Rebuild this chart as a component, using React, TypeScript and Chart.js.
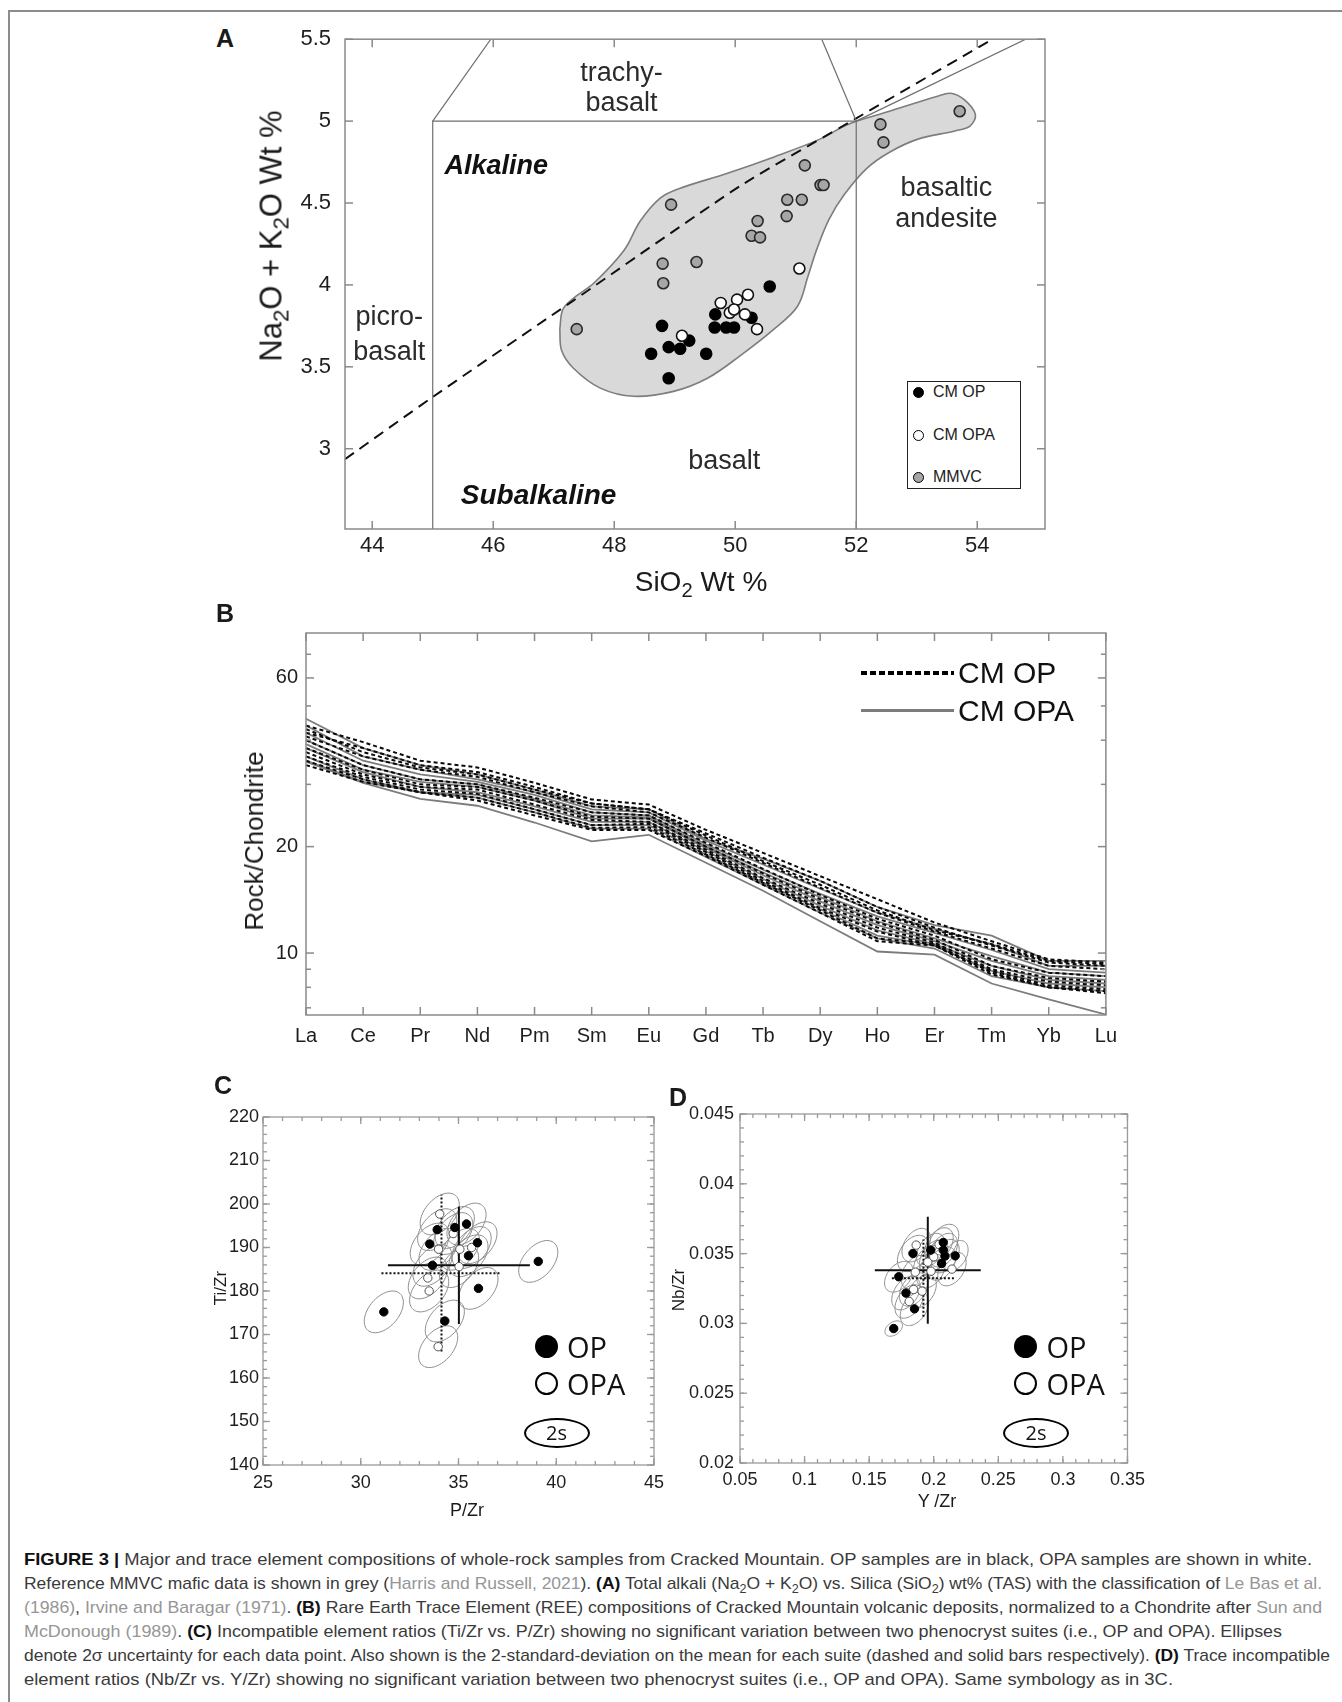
import React, { useEffect, useLayoutEffect, useRef } from "react";
import { Chart, registerables } from "chart.js";
Chart.register(...registerables);

const FONT = "'Liberation Sans', Arial, Helvetica, sans-serif";

// ---------------- Panel A : TAS ----------------
const TAS_OP_SIO2 = [48.79, 48.61, 48.9, 49.09, 49.24, 48.9, 49.52, 49.67, 49.66, 49.85, 49.98, 50.27, 50.57];
const TAS_OP_ALK = [3.75, 3.58, 3.62, 3.61, 3.66, 3.43, 3.58, 3.82, 3.74, 3.74, 3.74, 3.8, 3.99];
const TAS_OPA_SIO2 = [49.12, 49.76, 50.03, 50.21, 49.91, 49.98, 50.16, 50.36, 51.06];
const TAS_OPA_ALK = [3.69, 3.89, 3.91, 3.94, 3.83, 3.85, 3.82, 3.73, 4.1];
const TAS_MMVC_SIO2 = [47.38, 48.94, 48.8, 48.81, 49.36, 50.37, 50.27, 50.41, 50.86, 51.1, 50.85, 51.15, 51.41, 51.46, 52.4, 52.45, 53.71];
const TAS_MMVC_ALK = [3.73, 4.49, 4.13, 4.01, 4.14, 4.39, 4.3, 4.29, 4.52, 4.52, 4.42, 4.73, 4.61, 4.61, 4.98, 4.87, 5.06];

const ENVELOPE_SIO2 = [47.1, 47.15, 47.33, 47.66, 48.16, 48.43, 48.76, 49.09, 49.86, 50.63, 51.4, 51.86, 52.55, 53.33, 53.56, 53.79, 53.97, 53.88, 53.63, 53.02, 52.55, 52.17, 51.8, 51.55, 51.35, 51.2, 51.03, 50.64, 50.09, 49.54, 48.98, 48.32, 47.77, 47.33, 47.13, 47.1];
const ENVELOPE_ALK = [3.73, 3.85, 3.92, 4.01, 4.21, 4.39, 4.53, 4.59, 4.68, 4.78, 4.89, 4.98, 5.06, 5.15, 5.17, 5.13, 5.04, 4.97, 4.94, 4.89, 4.81, 4.71, 4.55, 4.4, 4.22, 4.05, 3.87, 3.73, 3.57, 3.43, 3.35, 3.32, 3.37, 3.49, 3.6, 3.73];

const ALK_DIVIDE_SIO2 = [43.55, 45.0, 47.33, 50.09, 52.0, 54.25];
const ALK_DIVIDE_ALK = [2.936, 3.316, 3.906, 4.606, 5.017, 5.5];

const BASALT_FIELD_SIO2 = [45, 45, 52, 52];
const BASALT_FIELD_ALK = [2.3, 5, 5, 2.3];
const TB_LEFT_SIO2 = [45, 45.96];
const TB_LEFT_ALK = [5, 5.5];
const TB_RIGHT_SIO2 = [52, 51.43];
const TB_RIGHT_ALK = [5, 5.5];
const BA_TOP_SIO2 = [52, 54.8];
const BA_TOP_ALK = [5, 5.5];

const A_X_TICKS = [44, 46, 48, 50, 52, 54];
const A_Y_TICKS = [3, 3.5, 4, 4.5, 5, 5.5];

// ---------------- Panel B : REE ----------------
const REE = ["La", "Ce", "Pr", "Nd", "Pm", "Sm", "Eu", "Gd", "Tb", "Dy", "Ho", "Er", "Tm", "Yb", "Lu"];
const REE_OP = [
  [44, 39.5, 35, 33.5, 30.3, 27.2, 26.3, 22.3, 19.2, 16.5, 14.2, 12.2, 10.8, 9.6, 9.4],
  [43, 37, 33.5, 32, 29, 26.5, 25.5, 21.5, 18.2, 15.6, 13.2, 11.6, 10.6, 9.5, 9.3],
  [42, 38, 34, 32.5, 29.5, 26.5, 25.5, 21.8, 18.6, 16.0, 13.5, 11.8, 10.5, 9.4, 9.2],
  [41, 36, 33, 31.5, 28.5, 26, 25, 21.2, 18.0, 15.3, 13.0, 11.5, 10.3, 9.2, 9.0],
  [40, 34, 31, 30, 27.5, 25, 24.5, 20.5, 17.3, 14.6, 12.5, 11.2, 9.6, 8.8, 8.6],
  [38, 33, 30, 29.5, 27, 24.3, 24, 20.0, 16.8, 14.2, 12.2, 10.9, 9.2, 8.5, 8.3],
  [37, 32, 29.5, 29, 26.3, 23.8, 23.5, 19.6, 16.3, 13.8, 11.8, 10.7, 9.0, 8.3, 8.1],
  [36, 31.5, 29, 28.2, 25.5, 23, 23.2, 19.3, 16.0, 13.4, 11.5, 10.5, 8.9, 8.1, 7.9],
  [35, 31, 28.5, 27.5, 25, 22.6, 22.7, 19.0, 15.8, 13.2, 11.0, 10.6, 8.8, 8.0, 7.8],
  [34, 30.5, 28.5, 27, 24.5, 22.3, 22.3, 18.8, 15.6, 13.0, 10.8, 10.5, 8.7, 8.0, 7.7],
];
const REE_OPA = [
  [46, 38, 34, 32, 29, 26, 25.5, 21, 18.5, 16.0, 13.5, 12.0, 11.2, 9.5, 9.5],
  [44, 36, 33, 31, 28.5, 25.5, 25, 20.8, 17.8, 15.2, 13.0, 11.7, 10.6, 9.2, 9.2],
  [42, 35, 32, 30.5, 28, 25, 24.5, 20.3, 17.2, 14.7, 12.7, 11.4, 10.2, 9.0, 8.8],
  [40, 34, 31, 30, 27.3, 24.5, 24.2, 20, 16.9, 14.4, 12.3, 11.0, 9.8, 8.8, 8.6],
  [39, 33, 30.5, 29.5, 27, 24, 24, 19.8, 16.6, 14.0, 12.0, 10.8, 9.5, 8.6, 8.4],
  [38, 32.5, 29.5, 28.5, 26, 23.5, 23.5, 19.4, 16.2, 13.6, 11.6, 10.6, 9.2, 8.4, 8.2],
  [36, 31, 28.5, 28, 25.5, 23, 23, 19, 15.8, 13.3, 11.2, 10.5, 8.9, 8.2, 8.0],
  [35, 30.5, 28.5, 27.5, 25, 22.5, 22.5, 18.7, 15.6, 13.0, 11.0, 10.3, 8.6, 8.0, 7.8],
  [34.8, 30.3, 27.3, 26.1, 23.4, 20.7, 21.6, 18.0, 15.0, 12.3, 10.1, 9.9, 8.2, 7.4, 6.7],
];
const B_Y_TICKS = [10, 20, 60];
const B_Y_MINOR = [7, 8, 9, 30, 40, 50, 70];

// ---------------- Panel C : Ti/Zr vs P/Zr ----------------
const C_OP_PZR = [31.18, 33.91, 33.53, 33.67, 34.81, 35.41, 35.97, 35.51, 34.3, 36.02, 39.08];
const C_OP_TIZR = [175.2, 194.1, 190.8, 185.9, 194.6, 195.4, 191.1, 188.1, 173.1, 180.6, 186.8];
const C_OPA_PZR = [34.04, 33.98, 34.73, 35.07, 35.67, 35.03, 33.43, 33.5, 33.96];
const C_OPA_TIZR = [197.7, 189.6, 193.2, 189.6, 190.0, 185.6, 183.0, 180.0, 167.2];
const C_ELL_SX = 1.0;
const C_ELL_SY = 4.8;
const C_ELL_RHO = 0.45;
const C_OP_MEAN = [34.13, 184.1];
const C_OP_2SD = [3.07, 18.0];
const C_OPA_MEAN = [35.02, 185.9];
const C_OPA_2SD = [3.63, 13.5];
const C_X_TICKS = [25, 30, 35, 40, 45];
const C_Y_TICKS = [140, 150, 160, 170, 180, 190, 200, 210, 220];

// ---------------- Panel D : Nb/Zr vs Y/Zr ----------------
const D_OP_YZR = [0.169, 0.1729, 0.1785, 0.1851, 0.1839, 0.1977, 0.2074, 0.2074, 0.2087, 0.2166, 0.2061];
const D_OP_NBZR = [0.02963, 0.03334, 0.03217, 0.03104, 0.03501, 0.03525, 0.0358, 0.03525, 0.03482, 0.03484, 0.03429];
const D_OP_SX = [0.0068, 0.011, 0.011, 0.011, 0.012, 0.011, 0.012, 0.011, 0.011, 0.01, 0.011];
const D_OP_SY = [0.00055, 0.0011, 0.0012, 0.0012, 0.0013, 0.0012, 0.0013, 0.0012, 0.0012, 0.0011, 0.0012];
const D_OPA_YZR = [0.1864, 0.1857, 0.1954, 0.1979, 0.2041, 0.2141, 0.1844, 0.191, 0.181, 0.2];
const D_OPA_NBZR = [0.03561, 0.03367, 0.03439, 0.03374, 0.03565, 0.03389, 0.03243, 0.03231, 0.03157, 0.03477];
const D_ELL_SX = 0.011;
const D_ELL_SY = 0.0012;
const D_ELL_RHO = 0.4;
const D_OP_MEAN = [0.192, 0.03324];
const D_OP_2SD = [0.0244, 0.00277];
const D_OPA_MEAN = [0.1954, 0.03381];
const D_OPA_2SD = [0.041, 0.00383];
const D_X_TICKS = [0.05, 0.1, 0.15, 0.2, 0.25, 0.3, 0.35];
const D_Y_TICKS = [0.02, 0.025, 0.03, 0.035, 0.04, 0.045];

// ---------------- helpers ----------------
const pts = (xs: number[], ys: number[]) => xs.map((x, i) => ({ x, y: ys[i] }));
const steps = (a: number, b: number, n: number) => {
  const out: number[] = [];
  for (let i = 0; i <= n; i++) out.push(a + ((b - a) * i) / n);
  return out;
};
const crossH = (m: number[], s: number[]) => [{ x: m[0] - s[0], y: m[1] }, { x: m[0] + s[0], y: m[1] }];
const crossV = (m: number[], s: number[]) => [{ x: m[0], y: m[1] - s[1] }, { x: m[0], y: m[1] + s[1] }];

type Box = { x: number; y: number; w: number; h: number };
const PAD = 20;
function boxFor(l: number, t: number, r: number, b: number, yW: number, xH: number): Box {
  const x = l - PAD - yW;
  const y = t - PAD;
  return { x, y, w: r + PAD - x, h: b + xH + PAD - y };
}

const frameTicks = {
  id: "frameTicks",
  afterDatasetsDraw(chart: any, _a: any, o: any) {
    const { ctx, chartArea: a } = chart;
    const xs = chart.scales.x;
    const ys = chart.scales.y;
    ctx.save();
    ctx.strokeStyle = o.color;
    ctx.lineWidth = o.lineWidth;
    const seg = (x1: number, y1: number, x2: number, y2: number) => {
      ctx.beginPath();
      ctx.moveTo(x1, y1);
      ctx.lineTo(x2, y2);
      ctx.stroke();
    };
    const xt = (v: number, len: number) => {
      const p = xs.getPixelForValue(v);
      seg(p, a.bottom, p, a.bottom - len);
      seg(p, a.top, p, a.top + len);
    };
    const yt = (v: number, len: number) => {
      const p = ys.getPixelForValue(v);
      seg(a.left, p, a.left + len, p);
      seg(a.right, p, a.right - len, p);
    };
    xs.ticks.forEach((t: any) => xt(t.value, o.major));
    ys.ticks.forEach((t: any) => yt(t.value, o.major));
    (o.xMinor || []).forEach((v: number) => xt(v, o.minor));
    (o.yMinor || []).forEach((v: number) => yt(v, o.minor));
    ctx.strokeRect(a.left, a.top, a.right - a.left, a.bottom - a.top);
    ctx.restore();
  },
};

const textLabels = {
  id: "textLabels",
  afterDatasetsDraw(chart: any, _a: any, o: any) {
    const { ctx } = chart;
    const xs = chart.scales.x;
    const ys = chart.scales.y;
    ctx.save();
    ctx.textAlign = "center";
    ctx.textBaseline = "middle";
    (o.items || []).forEach((l: any) => {
      ctx.font = l.font;
      ctx.fillStyle = l.color;
      ctx.fillText(l.text, xs.getPixelForValue(l.x), ys.getPixelForValue(l.y));
    });
    ctx.restore();
  },
};

const ellipses = {
  id: "ellipses",
  beforeDatasetsDraw(chart: any, _a: any, o: any) {
    const { ctx } = chart;
    const xs = chart.scales.x;
    const ys = chart.scales.y;
    ctx.save();
    ctx.strokeStyle = o.color;
    ctx.lineWidth = o.lineWidth;
    (o.sets || []).forEach((s: any) => {
      s.x.forEach((cx: number, i: number) => {
        const sx = Array.isArray(s.sx) ? s.sx[i] : s.sx;
        const sy = Array.isArray(s.sy) ? s.sy[i] : s.sy;
        const r = s.rho;
        ctx.beginPath();
        for (let k = 0; k <= 72; k++) {
          const t = (k / 72) * Math.PI * 2;
          const dx = sx * Math.cos(t);
          const dy = sy * (r * Math.cos(t) + Math.sqrt(1 - r * r) * Math.sin(t));
          const px = xs.getPixelForValue(cx + dx);
          const py = ys.getPixelForValue(s.y[i] + dy);
          if (k === 0) ctx.moveTo(px, py);
          else ctx.lineTo(px, py);
        }
        ctx.closePath();
        ctx.stroke();
      });
    });
    ctx.restore();
  },
};

function linAxis(min: number, max: number, ticks: number[], size: number, pad: number, fixed: number, horizontal: boolean, extra: any = {}) {
  return {
    type: "linear",
    min,
    max,
    bounds: "data",
    grid: { display: false, drawTicks: false },
    border: { display: false },
    ticks: {
      padding: pad,
      color: "#1e1e1e",
      font: { family: FONT, size },
      maxRotation: 0,
      autoSkip: false,
      callback: (v: any) => String(v),
    },
    afterBuildTicks: (s: any) => {
      s.ticks = ticks.map((v) => ({ value: v }));
    },
    afterFit: (s: any) => {
      if (horizontal) s.height = fixed;
      else s.width = fixed;
    },
    ...extra,
  };
}

function ChartCanvas({ box, make }: { box: Box; make: () => any }) {
  const ref = useRef<HTMLCanvasElement>(null);
  useEffect(() => {
    const c = new Chart(ref.current as HTMLCanvasElement, make());
    return () => c.destroy();
  }, []);
  return (
    <canvas
      ref={ref}
      width={box.w}
      height={box.h}
      style={{ position: "absolute", left: box.x, top: box.y, width: box.w, height: box.h }}
    />
  );
}

const baseOpts = (plugins: any) => ({
  responsive: false,
  animation: false,
  events: [],
  layout: { padding: PAD },
  plugins: { legend: { display: false }, tooltip: { enabled: false }, ...plugins },
});

// ---------------- panel configs ----------------
const BOX_A = boxFor(345, 32, 1045, 529, 70, 40);
function makeA() {
  const lineDs = (xs: number[], ys: number[], extra: any = {}) => ({
    data: pts(xs, ys),
    borderColor: "#6f6f6f",
    borderWidth: 1.2,
    pointRadius: 0,
    fill: false,
    order: 5,
    ...extra,
  });
  const ptDs = (xs: number[], ys: number[], bg: string, bc: string) => ({
    data: pts(xs, ys),
    showLine: false,
    pointRadius: 5.5,
    pointBackgroundColor: bg,
    pointBorderColor: bc,
    pointBorderWidth: 1.6,
    order: 1,
  });
  return {
    type: "line",
    data: {
      datasets: [
        {
          data: pts(ENVELOPE_SIO2, ENVELOPE_ALK),
          borderColor: "#7d7d7d",
          borderWidth: 1.6,
          backgroundColor: "#d9d9d9",
          fill: "shape",
          tension: 0.35,
          pointRadius: 0,
          order: 10,
        },
        lineDs(BASALT_FIELD_SIO2, BASALT_FIELD_ALK),
        lineDs(TB_LEFT_SIO2, TB_LEFT_ALK),
        lineDs(TB_RIGHT_SIO2, TB_RIGHT_ALK),
        lineDs(BA_TOP_SIO2, BA_TOP_ALK),
        lineDs(ALK_DIVIDE_SIO2, ALK_DIVIDE_ALK, { borderColor: "#111", borderWidth: 2, borderDash: [11, 7], tension: 0.2 }),
        ptDs(TAS_MMVC_SIO2, TAS_MMVC_ALK, "#a6a6a6", "#2a2a2a"),
        ptDs(TAS_OPA_SIO2, TAS_OPA_ALK, "#ffffff", "#111"),
        ptDs(TAS_OP_SIO2, TAS_OP_ALK, "#000000", "#000"),
      ],
    },
    options: {
      ...baseOpts({
        frameTicks: { color: "#8a8a8a", lineWidth: 1.5, major: 8, minor: 4 },
        textLabels: {
          items: [
            { text: "trachy-", x: 48.12, y: 5.29, font: `27px ${FONT}`, color: "#2b2b2b" },
            { text: "basalt", x: 48.12, y: 5.11, font: `27px ${FONT}`, color: "#2b2b2b" },
            { text: "Alkaline", x: 46.05, y: 4.72, font: `italic bold 27px ${FONT}`, color: "#111" },
            { text: "basaltic", x: 53.49, y: 4.59, font: `27px ${FONT}`, color: "#2b2b2b" },
            { text: "andesite", x: 53.49, y: 4.4, font: `27px ${FONT}`, color: "#2b2b2b" },
            { text: "picro-", x: 44.28, y: 3.8, font: `27px ${FONT}`, color: "#2b2b2b" },
            { text: "basalt", x: 44.28, y: 3.59, font: `27px ${FONT}`, color: "#2b2b2b" },
            { text: "basalt", x: 49.82, y: 2.92, font: `27px ${FONT}`, color: "#2b2b2b" },
            { text: "Subalkaline", x: 46.75, y: 2.71, font: `italic bold 28px ${FONT}`, color: "#111" },
          ],
        },
      }),
      scales: {
        x: linAxis(43.55, 55.12, A_X_TICKS, 22, 4, 40, true),
        y: linAxis(2.51, 5.5, A_Y_TICKS, 22, 14, 70, false),
      },
    },
    plugins: [frameTicks, textLabels],
  };
}

const BOX_B = boxFor(306, 633, 1106, 1015, 60, 50);
function makeB() {
  const ds: any[] = [];
  REE_OP.forEach((row) =>
    ds.push({ data: row, borderColor: "#0a0a0a", borderWidth: 2, borderDash: [4, 3], pointRadius: 0, tension: 0, fill: false })
  );
  REE_OPA.forEach((row) =>
    ds.push({ data: row, borderColor: "#7c7c7c", borderWidth: 1.8, pointRadius: 0, tension: 0, fill: false })
  );
  return {
    type: "line",
    data: { labels: REE, datasets: ds },
    options: {
      ...baseOpts({ frameTicks: { color: "#8a8a8a", lineWidth: 1.5, major: 8, minor: 5, yMinor: B_Y_MINOR } }),
      scales: {
        x: {
          type: "category",
          offset: false,
          grid: { display: false, drawTicks: false },
          border: { display: false },
          ticks: { padding: 9, color: "#1e1e1e", font: { family: FONT, size: 20 }, maxRotation: 0, autoSkip: false },
          afterFit: (s: any) => {
            s.height = 50;
          },
        },
        y: {
          type: "logarithmic",
          min: 6.68,
          max: 80.4,
          bounds: "data",
          grid: { display: false, drawTicks: false },
          border: { display: false },
          ticks: { padding: 8, color: "#1e1e1e", font: { family: FONT, size: 20 }, callback: (v: any) => String(v) },
          afterBuildTicks: (s: any) => {
            s.ticks = B_Y_TICKS.map((v) => ({ value: v }));
          },
          afterFit: (s: any) => {
            s.width = 60;
          },
        },
      },
    },
    plugins: [frameTicks],
  };
}

function ratioChart(
  op: { x: number[]; y: number[]; sx: any; sy: any },
  opa: { x: number[]; y: number[]; sx: any; sy: any },
  rho: number,
  opMean: number[],
  op2sd: number[],
  opaMean: number[],
  opa2sd: number[],
  xAxis: any,
  yAxis: any,
  xMinor: number[],
  yMinor: number[]
) {
  const seg = (data: any[], dash: number[]) => ({
    data,
    borderColor: "#111",
    borderWidth: 2,
    borderDash: dash,
    pointRadius: 0,
    fill: false,
    order: 3,
  });
  return {
    type: "line",
    data: {
      datasets: [
        { data: pts(op.x, op.y), showLine: false, pointRadius: 4.2, pointBackgroundColor: "#000", pointBorderColor: "#000", pointBorderWidth: 1, order: 1 },
        { data: pts(opa.x, opa.y), showLine: false, pointRadius: 4.2, pointBackgroundColor: "#fff", pointBorderColor: "#555", pointBorderWidth: 1, order: 1 },
        seg(crossH(opMean, op2sd), [2, 2]),
        seg(crossV(opMean, op2sd), [2, 2]),
        seg(crossH(opaMean, opa2sd), []),
        seg(crossV(opaMean, opa2sd), []),
      ],
    },
    options: {
      ...baseOpts({
        frameTicks: { color: "#9a9a9a", lineWidth: 1.3, major: 7, minor: 4, xMinor, yMinor },
        ellipses: {
          color: "#8c8c8c",
          lineWidth: 1,
          sets: [
            { x: op.x, y: op.y, sx: op.sx, sy: op.sy, rho },
            { x: opa.x, y: opa.y, sx: opa.sx, sy: opa.sy, rho },
          ],
        },
      }),
      scales: { x: xAxis, y: yAxis },
    },
    plugins: [ellipses, frameTicks],
  };
}

const BOX_C = boxFor(263, 1117, 654, 1465, 55, 35);
function makeC() {
  return ratioChart(
    { x: C_OP_PZR, y: C_OP_TIZR, sx: C_ELL_SX, sy: C_ELL_SY },
    { x: C_OPA_PZR, y: C_OPA_TIZR, sx: C_ELL_SX, sy: C_ELL_SY },
    C_ELL_RHO,
    C_OP_MEAN,
    C_OP_2SD,
    C_OPA_MEAN,
    C_OPA_2SD,
    linAxis(25, 45, C_X_TICKS, 18, 7, 35, true),
    linAxis(140, 220, C_Y_TICKS, 18, 4, 55, false),
    steps(25, 45, 20),
    steps(140, 220, 40)
  );
}

const BOX_D = boxFor(740, 1114, 1131, 1463, 65, 35);
function makeD() {
  return ratioChart(
    { x: D_OP_YZR, y: D_OP_NBZR, sx: D_OP_SX, sy: D_OP_SY },
    { x: D_OPA_YZR, y: D_OPA_NBZR, sx: D_ELL_SX, sy: D_ELL_SY },
    D_ELL_RHO,
    D_OP_MEAN,
    D_OP_2SD,
    D_OPA_MEAN,
    D_OPA_2SD,
    linAxis(0.05, 0.35, D_X_TICKS, 18, 6, 35, true),
    linAxis(0.02, 0.045, D_Y_TICKS, 18, 6, 65, false),
    steps(0.05, 0.35, 30),
    steps(0.02, 0.045, 25)
  );
}

// ---------------- HTML helpers ----------------
const abs = (s: any) => ({ position: "absolute" as const, ...s });
const Sub = ({ children }: any) => (
  <sub style={{ fontSize: "0.72em", verticalAlign: "-0.3em", lineHeight: 0 }}>{children}</sub>
);
const G = ({ children }: any) => <span style={{ color: "#969696" }}>{children}</span>;
const B = ({ children }: any) => <b style={{ color: "#111" }}>{children}</b>;

function Centered({ x, y, size, children, bold, rotate, family }: any) {
  return (
    <div
      style={abs({
        left: x,
        top: y,
        transform: `translate(-50%, -50%)${rotate ? " rotate(-90deg)" : ""}`,
        fontSize: size,
        fontWeight: bold ? 700 : 400,
        fontFamily: family || FONT,
        color: "#1a1a1a",
        whiteSpace: "nowrap",
        lineHeight: 1,
      })}
    >
      {children}
    </div>
  );
}

function Dot({ x, y, r, fill, border }: any) {
  return (
    <div
      style={abs({
        left: x - r,
        top: y - r,
        width: 2 * r,
        height: 2 * r,
        borderRadius: "50%",
        background: fill,
        border: `${border}px solid #000`,
        boxSizing: "border-box",
      })}
    />
  );
}

function RatioLegend({ cx, textX }: { cx: number; textX: number }) {
  const LF = "'Open Sans', 'Liberation Sans', sans-serif";
  return (
    <>
      <Dot x={cx} y={1346} r={11.5} fill="#000" border={0} />
      <div style={abs({ left: textX, top: 1346, transform: "translateY(-50%)", fontSize: 29, fontFamily: LF, color: "#111", lineHeight: 1 })}>OP</div>
      <Dot x={cx} y={1383} r={11.5} fill="#fff" border={2} />
      <div style={abs({ left: textX, top: 1383, transform: "translateY(-50%)", fontSize: 29, fontFamily: LF, color: "#111", lineHeight: 1 })}>OPA</div>
      <div
        style={abs({
          left: cx + 10.5 - 33,
          top: 1433 - 15,
          width: 66,
          height: 30,
          borderRadius: "50%",
          border: "2px solid #000",
          boxSizing: "border-box",
        })}
      />
      <div style={abs({ left: cx + 10.5, top: 1433, transform: "translate(-50%,-50%)", fontSize: 20, fontFamily: LF, color: "#111", lineHeight: 1 })}>2s</div>
    </>
  );
}

const CAPTION_LEFT = 24;
const CAPTION_RIGHT = [1312, 1322, 1322, 1282, 1330, 1173];
const CAPTION_Y0 = 1560;
const CAPTION_DY = 23.9;

export default function App() {
  const capRefs = useRef<(HTMLDivElement | null)[]>([]);
  useLayoutEffect(() => {
    capRefs.current.forEach((el, i) => {
      if (!el) return;
      el.style.transform = "none";
      const w = el.getBoundingClientRect().width;
      if (w > 0) el.style.transform = `scaleX(${(CAPTION_RIGHT[i] - CAPTION_LEFT) / w})`;
    });
  }, []);

  const lines = [
    <>
      <B>FIGURE 3 |</B> Major and trace element compositions of whole-rock samples from Cracked Mountain. OP samples are in black, OPA samples are shown in white.
    </>,
    <>
      Reference MMVC mafic data is shown in grey (<G>Harris and Russell, 2021</G>). <B>(A)</B> Total alkali (Na<Sub>2</Sub>O + K<Sub>2</Sub>O) vs. Silica (SiO<Sub>2</Sub>) wt% (TAS) with the classification of <G>Le Bas et al.</G>
    </>,
    <>
      <G>(1986)</G>, <G>Irvine and Baragar (1971)</G>. <B>(B)</B> Rare Earth Trace Element (REE) compositions of Cracked Mountain volcanic deposits, normalized to a Chondrite after <G>Sun and</G>
    </>,
    <>
      <G>McDonough (1989)</G>. <B>(C)</B> Incompatible element ratios (Ti/Zr vs. P/Zr) showing no significant variation between two phenocryst suites (i.e., OP and OPA). Ellipses
    </>,
    <>
      denote 2σ uncertainty for each data point. Also shown is the 2-standard-deviation on the mean for each suite (dashed and solid bars respectively). <B>(D)</B> Trace incompatible
    </>,
    <>element ratios (Nb/Zr vs. Y/Zr) showing no significant variation between two phenocryst suites (i.e., OP and OPA). Same symbology as in 3C.</>,
  ];

  return (
    <div style={abs({ left: 0, top: 0, width: 1342, height: 1702, background: "#fff", overflow: "hidden", fontFamily: FONT })}>
      {/* page frame */}
      <div style={abs({ left: 8, top: 10, width: 1342 - 8, height: 2, background: "#8c8c8c" })} />
      <div style={abs({ left: 8, top: 10, width: 2, height: 1702 - 10, background: "#8c8c8c" })} />

      {/* Panel A */}
      <ChartCanvas box={BOX_A} make={makeA} />
      <Centered x={225} y={38} size={25} bold>A</Centered>
      <Centered x={271} y={236} size={31} rotate>
        Na<Sub>2</Sub>O + K<Sub>2</Sub>O Wt %
      </Centered>
      <Centered x={701} y={582} size={28}>
        SiO<Sub>2</Sub> Wt %
      </Centered>
      <div style={abs({ left: 907, top: 381, width: 114, height: 108, border: "1.5px solid #222", boxSizing: "border-box", background: "#fff" })} />
      <Dot x={918} y={392} r={5.5} fill="#000" border={1.5} />
      <Dot x={918} y={435} r={5.5} fill="#fff" border={1.5} />
      <Dot x={918} y={477} r={5.5} fill="#a6a6a6" border={1.5} />
      {["CM OP", "CM OPA", "MMVC"].map((t, i) => (
        <div key={t} style={abs({ left: 933, top: [392, 435, 477][i], transform: "translateY(-50%)", fontSize: 16, color: "#222", lineHeight: 1 })}>
          {t}
        </div>
      ))}

      {/* Panel B */}
      <ChartCanvas box={BOX_B} make={makeB} />
      <Centered x={225} y={613} size={25} bold>B</Centered>
      <Centered x={254} y={841} size={26} rotate>Rock/Chondrite</Centered>
      <div
        style={abs({
          left: 861,
          top: 671,
          width: 93,
          height: 4,
          background: "repeating-linear-gradient(to right, #000 0 6px, transparent 6px 9px)",
        })}
      />
      <div style={abs({ left: 861, top: 709, width: 93, height: 3, background: "#7c7c7c" })} />
      <div style={abs({ left: 958, top: 673, transform: "translateY(-50%)", fontSize: 30, color: "#111", lineHeight: 1 })}>CM OP</div>
      <div style={abs({ left: 958, top: 711, transform: "translateY(-50%)", fontSize: 30, color: "#111", lineHeight: 1 })}>CM OPA</div>

      {/* Panel C */}
      <ChartCanvas box={BOX_C} make={makeC} />
      <Centered x={223} y={1085} size={25} bold>C</Centered>
      <Centered x={220} y={1288} size={17} rotate>Ti/Zr</Centered>
      <Centered x={467} y={1510} size={18}>P/Zr</Centered>
      <RatioLegend cx={546} textX={567} />

      {/* Panel D */}
      <ChartCanvas box={BOX_D} make={makeD} />
      <Centered x={678} y={1097} size={25} bold>D</Centered>
      <Centered x={678} y={1290} size={17} rotate>Nb/Zr</Centered>
      <Centered x={937} y={1501} size={18}>Y /Zr</Centered>
      <RatioLegend cx={1025.5} textX={1046.5} />

      {/* Caption */}
      {lines.map((ln, i) => (
        <div
          key={i}
          ref={(el) => {
            capRefs.current[i] = el;
          }}
          style={abs({
            left: CAPTION_LEFT,
            top: CAPTION_Y0 + i * CAPTION_DY - 12,
            height: 24,
            lineHeight: "24px",
            fontSize: 17,
            color: "#3a3a3a",
            whiteSpace: "nowrap",
            display: "inline-block",
            transformOrigin: "left center",
          })}
        >
          {ln}
        </div>
      ))}
    </div>
  );
}
